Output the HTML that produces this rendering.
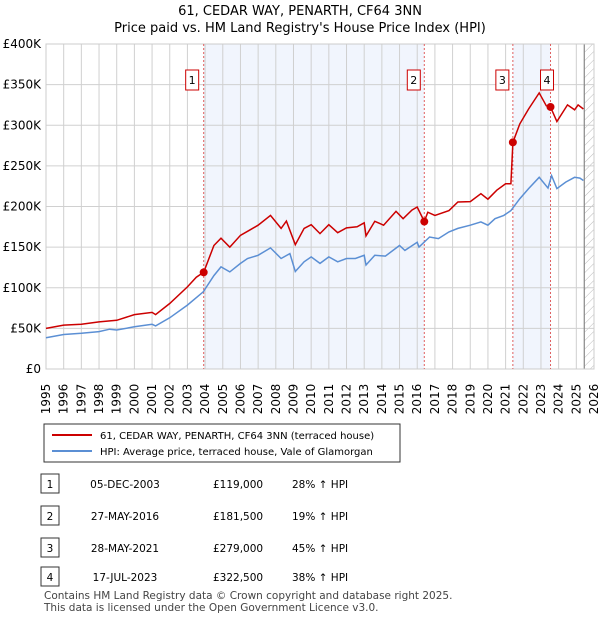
<!DOCTYPE html>
<html><head><meta charset="utf-8"><style>
body{margin:0;background:#fff;font-family:"DejaVu Sans","Liberation Sans",sans-serif;}
svg text{font-family:"DejaVu Sans","Liberation Sans",sans-serif;}
</style></head><body>
<svg id="c" width="600" height="620" xmlns="http://www.w3.org/2000/svg">
<text x="300" y="15" text-anchor="middle" font-size="13">61, CEDAR WAY, PENARTH, CF64 3NN</text>
<text x="300" y="32" text-anchor="middle" font-size="13">Price paid vs. HM Land Registry's House Price Index (HPI)</text>
<g id="plot"></g>
<g>
<rect x="44" y="424" width="356" height="38" fill="#fff" stroke="#333"/>
<line x1="52" y1="435" x2="92" y2="435" stroke="#cc0000" stroke-width="2"/>
<text x="100" y="439" font-size="10">61, CEDAR WAY, PENARTH, CF64 3NN (terraced house)</text>
<line x1="52" y1="451" x2="92" y2="451" stroke="#5b8fd4" stroke-width="2"/>
<text x="100" y="455" font-size="10">HPI: Average price, terraced house, Vale of Glamorgan</text>
</g>
<g id="table"></g>
<text x="44" y="599" font-size="10.5" fill="#444">Contains HM Land Registry data © Crown copyright and database right 2025.</text>
<text x="44" y="611" font-size="10.5" fill="#444">This data is licensed under the Open Government Licence v3.0.</text>
</svg>
<script>
const hpiDates=[1995,1996,1997,1998,1998.6,1999,2000,2001,2001.2,2002,2003,2003.9,2004.5,2004.9,2005.4,2006,2006.4,2007,2007.7,2008.3,2008.8,2009.1,2009.6,2010,2010.5,2011,2011.5,2012,2012.5,2013,2013.1,2013.6,2014.2,2015,2015.3,2016,2016.1,2016.7,2017.2,2017.8,2018.3,2019,2019.6,2020,2020.4,2020.9,2021.3,2021.8,2022.3,2022.9,2023.4,2023.6,2023.9,2024.4,2024.9,2025.2,2025.4];
const hpiValues=[38.5,42.5,44,46,49,48,52,55,53,63,78.6,95,115,125.7,119.5,130,136,140,149,136,142,120,132,138,130,138,132,136,136,140,128,140,139,152,146,156,150,162.5,160.5,168.7,173,177,181,177,185,189,195,209.6,222,236,222.7,238,222,230,236,235,232];
const priceDates=[1995,1996,1997,1998,1999,2000,2001,2001.2,2002,2003,2003.5,2003.92,2004.5,2004.9,2005.4,2006,2006.5,2007,2007.7,2008.3,2008.6,2009.1,2009.6,2010,2010.5,2011,2011.5,2012,2012.6,2013,2013.1,2013.6,2014.1,2014.8,2015.2,2015.7,2016,2016.4,2016.6,2017,2017.8,2018.3,2019,2019.6,2020,2020.5,2021,2021.3,2021.41,2021.8,2022.3,2022.9,2023.3,2023.54,2023.9,2024.5,2024.9,2025.1,2025.4];
const priceValues=[50,54,55,58,60,67,69.6,67,80.6,101,113,119,152,161,150,164.5,170.7,177,189,173,182,153,173,177.6,166.6,177.6,167.8,173.6,175,180,163.8,181.8,177,194,185,195.6,199.4,181.5,193,189,195,205.5,206,215.7,209,220,228,228,279,301.7,320,339.8,324,322.5,304.6,325,319,325,320];
const saleLabels=["1","2","3","4"];
const saleDates=[2003.92,2016.4,2021.41,2023.54];
const saleValues=[119,181.5,279,322.5];
const saleDateText=["05-DEC-2003","27-MAY-2016","28-MAY-2021","17-JUL-2023"];
const salePriceText=["£119,000","£181,500","£279,000","£322,500"];
const salePctText=["28% ↑ HPI","19% ↑ HPI","45% ↑ HPI","38% ↑ HPI"];
const yTicks=[0,50,100,150,200,250,300,350,400];
const yTickLabels=["£0","£50K","£100K","£150K","£200K","£250K","£300K","£350K","£400K"];
const xTicks=[1995,1996,1997,1998,1999,2000,2001,2002,2003,2004,2005,2006,2007,2008,2009,2010,2011,2012,2013,2014,2015,2016,2017,2018,2019,2020,2021,2022,2023,2024,2025,2026];
const dataEnd=2025.45;

const NS="http://www.w3.org/2000/svg";
const X0=46,X1=594,Y0=369,Y1=44;
const xs=d=>X0+(d-1995)/31*(X1-X0);
const ys=v=>Y0-v/400*(Y0-Y1);
const plot=document.getElementById('plot');
function mk(tag,attrs,parent){const e=document.createElementNS(NS,tag);for(const k in attrs)e.setAttribute(k,attrs[k]);(parent||plot).appendChild(e);return e;}

for(let i=0;i<saleDates.length;i+=2){
  const r=mk('rect',{x:xs(saleDates[i]),y:Y1,width:xs(saleDates[i+1])-xs(saleDates[i]),height:Y0-Y1,fill:'#f1f5fd'});
  
  
}
const defs=mk('defs',{});
const pat=mk('pattern',{id:'h',width:6,height:6,patternUnits:'userSpaceOnUse',patternTransform:'rotate(45)'},defs);
mk('line',{x1:0,y1:0,x2:0,y2:6,stroke:'#bbb','stroke-width':1},pat);
const hr=mk('rect',{x:xs(dataEnd),y:Y1,width:X1-xs(dataEnd),height:Y0-Y1,fill:'url(#h)'});


xTicks.forEach((t,i)=>{
  mk('line',{x1:xs(t),y1:Y1,x2:xs(t),y2:Y0,stroke:'#d0d0d0','stroke-width':1});
  const tx=mk('text',{x:0,y:0,'font-size':12,'text-anchor':'middle',transform:`translate(${xs(t)+4},${Y0+16}) rotate(-90) translate(-14,0)`});
  tx.textContent=t;
  
  
});
yTicks.forEach((t,i)=>{
  mk('line',{x1:X0,y1:ys(t),x2:X1,y2:ys(t),stroke:'#d0d0d0','stroke-width':1});
  const tx=mk('text',{x:X0-5,y:ys(t)+4,'font-size':12,'text-anchor':'end'});
  tx.textContent=yTickLabels[i];
  
  
});
mk('line',{x1:xs(dataEnd),y1:Y1,x2:xs(dataEnd),y2:Y0,stroke:'#888','stroke-width':1.2});
mk('rect',{x:X0,y:Y1,width:X1-X0,height:Y0-Y1,fill:'none',stroke:'#ccc'});
saleDates.forEach((d,i)=>{
  mk('line',{x1:xs(d),y1:Y1,x2:xs(d),y2:Y0,stroke:'#e06060','stroke-width':1,'stroke-dasharray':'2,2'});
});
function path(ds,vs){return ds.map((d,i)=>(i?'L':'M')+xs(d).toFixed(1)+','+ys(vs[i]).toFixed(1)).join('');}
const hp=mk('path',{d:path(hpiDates,hpiValues),fill:'none',stroke:'#5b8fd4','stroke-width':1.5});


const pp=mk('path',{d:path(priceDates,priceValues),fill:'none',stroke:'#cc0000','stroke-width':1.5});


saleDates.forEach((d,i)=>{
  const c=mk('circle',{cx:xs(d),cy:ys(saleValues[i]),r:4,fill:'#cc0000'});
  
  
  const bx=xs(d)-8-(i===3?-4:(i===0?4:3));
  mk('rect',{x:bx-6,y:70,width:13,height:20,fill:'#fff',stroke:'#cc0000'});
  const t=mk('text',{x:bx+0.5,y:84,'font-size':11,'text-anchor':'middle'});
  t.textContent=saleLabels[i];
  
  
});
const tb=document.getElementById('table');
const rowY=[484,516,548,577];
saleLabels.forEach((l,i)=>{
  mk('rect',{x:41,y:rowY[i]-10,width:18,height:19,fill:'#fff',stroke:'#333'},tb);
  const a=mk('text',{x:50,y:rowY[i]+4,'font-size':10.5,'text-anchor':'middle'},tb);a.textContent=l;
  
  
  const b=mk('text',{x:125,y:rowY[i]+4,'font-size':10.5,'text-anchor':'middle'},tb);b.textContent=saleDateText[i];
  
  
  const c=mk('text',{x:213,y:rowY[i]+4,'font-size':10.5},tb);c.textContent=salePriceText[i];
  
  
  const e=mk('text',{x:292,y:rowY[i]+4,'font-size':10.5},tb);e.textContent=salePctText[i];
  
  
});
</script>
</body></html>
